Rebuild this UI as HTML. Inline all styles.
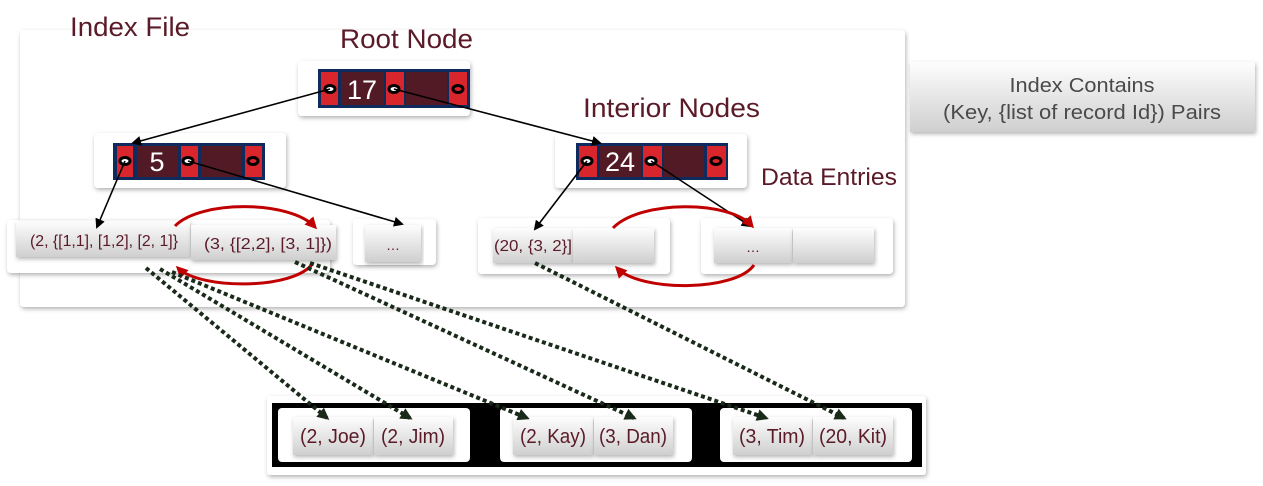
<!DOCTYPE html>
<html><head><meta charset="utf-8"><style>
html,body{margin:0;padding:0;background:#fff;}
svg{display:block;font-family:"Liberation Sans",sans-serif;}
</style></head><body>
<svg width="1263" height="486" viewBox="0 0 1263 486" xmlns="http://www.w3.org/2000/svg">
<defs>
<linearGradient id="g" x1="0" y1="0" x2="0" y2="1"><stop offset="0" stop-color="#fdfdfd"/><stop offset="1" stop-color="#cfcfcf"/></linearGradient>
<filter id="sh" x="-5%" y="-10%" width="110%" height="130%"><feDropShadow dx="1" dy="2" stdDeviation="2" flood-color="#000" flood-opacity="0.3"/></filter>
<marker id="ab" markerWidth="10" markerHeight="10" refX="8" refY="5" orient="auto" markerUnits="userSpaceOnUse"><path d="M0,0 L10,5 L0,10 z" fill="#000"/></marker>
<marker id="ar" markerWidth="12" markerHeight="12" refX="9" refY="6" orient="auto" markerUnits="userSpaceOnUse"><path d="M0,0 L12,6 L0,12 z" fill="#c00000"/></marker>
<marker id="ad" markerWidth="12" markerHeight="12" refX="9" refY="6" orient="auto" markerUnits="userSpaceOnUse"><path d="M0,0 L12,6 L0,12 z" fill="#1a2a1a"/></marker>
</defs>
<rect x="20" y="30" width="885" height="277" rx="4" fill="#fff" filter="url(#sh)"/>
<text x="70" y="36" font-size="27" fill="#5a1a28" textLength="120" lengthAdjust="spacingAndGlyphs">Index File</text>
<text x="340" y="48" font-size="27" fill="#5a1a28" textLength="133" lengthAdjust="spacingAndGlyphs">Root Node</text>
<text x="583" y="117" font-size="27" fill="#5a1a28" textLength="177" lengthAdjust="spacingAndGlyphs">Interior Nodes</text>
<text x="761" y="185" font-size="24" fill="#5a1a28" textLength="136" lengthAdjust="spacingAndGlyphs">Data Entries</text>

<rect x="298" y="61" width="172" height="55" rx="4" fill="#fff" filter="url(#sh)"/>
<rect x="94" y="133" width="192" height="55" rx="4" fill="#fff" filter="url(#sh)"/>
<rect x="555" y="134" width="192" height="54" rx="4" fill="#fff" filter="url(#sh)"/>

<g>
<rect x="318" y="69" width="152" height="39" fill="#0f2a5c"/>
<rect x="321" y="72" width="17" height="33" fill="#d9262c"/>
<rect x="341" y="72" width="43" height="33" fill="#521a24"/>
<rect x="386" y="72" width="18" height="33" fill="#d9262c"/>
<rect x="406" y="72" width="41" height="33" fill="#521a24"/>
<rect x="449" y="72" width="18" height="33" fill="#d9262c"/>
<text x="362" y="99" font-size="27" fill="#fff" text-anchor="middle">17</text>
<ellipse cx="330" cy="89" rx="5" ry="3.5" fill="#fff" stroke="#000" stroke-width="3"/>
<ellipse cx="394" cy="89" rx="5" ry="3.5" fill="#fff" stroke="#000" stroke-width="3"/>
<ellipse cx="458" cy="89" rx="5" ry="3.5" fill="#d9262c" stroke="#000" stroke-width="3"/>
</g>
<g>
<rect x="113" y="143" width="152" height="37" fill="#0f2a5c"/>
<rect x="117" y="146" width="16" height="31" fill="#d9262c"/>
<rect x="137" y="146" width="41" height="31" fill="#521a24"/>
<rect x="181" y="146" width="17" height="31" fill="#d9262c"/>
<rect x="201" y="146" width="40" height="31" fill="#521a24"/>
<rect x="245" y="146" width="17" height="31" fill="#d9262c"/>
<text x="157" y="171" font-size="27" fill="#fff" text-anchor="middle">5</text>
<ellipse cx="125" cy="161" rx="5" ry="3.5" fill="#fff" stroke="#000" stroke-width="3"/>
<ellipse cx="188" cy="161" rx="5" ry="3.5" fill="#fff" stroke="#000" stroke-width="3"/>
<ellipse cx="253" cy="161" rx="5" ry="3.5" fill="#d9262c" stroke="#000" stroke-width="3"/>
</g>
<g>
<rect x="576" y="143" width="152" height="37" fill="#0f2a5c"/>
<rect x="579" y="146" width="18" height="31" fill="#d9262c"/>
<rect x="600" y="146" width="41" height="31" fill="#521a24"/>
<rect x="643" y="146" width="19" height="31" fill="#d9262c"/>
<rect x="664" y="146" width="40" height="31" fill="#521a24"/>
<rect x="707" y="146" width="19" height="31" fill="#d9262c"/>
<text x="620" y="171" font-size="27" fill="#fff" text-anchor="middle">24</text>
<ellipse cx="587" cy="161" rx="5" ry="3.5" fill="#fff" stroke="#000" stroke-width="3"/>
<ellipse cx="651" cy="161" rx="5" ry="3.5" fill="#fff" stroke="#000" stroke-width="3"/>
<ellipse cx="716" cy="161" rx="5" ry="3.5" fill="#d9262c" stroke="#000" stroke-width="3"/>
</g>

<rect x="7" y="220" width="323" height="53" rx="4" fill="#fff" filter="url(#sh)"/>
<rect x="16" y="221" width="174" height="36" fill="url(#g)" filter="url(#sh)"/>
<text x="30" y="246" font-size="16" fill="#5a1a28" textLength="148" lengthAdjust="spacingAndGlyphs">(2, {[1,1], [1,2], [2, 1]}</text>
<rect x="191" y="225" width="145" height="35" fill="url(#g)" filter="url(#sh)"/>
<text x="204" y="249" font-size="16" fill="#5a1a28" textLength="128" lengthAdjust="spacingAndGlyphs">(3, {[2,2], [3, 1]})</text>
<rect x="353" y="219" width="83" height="46" rx="4" fill="#fff" filter="url(#sh)"/>
<rect x="365" y="225" width="56" height="37" fill="url(#g)" filter="url(#sh)"/>
<text x="393" y="250" font-size="14" fill="#5a1a28" text-anchor="middle">…</text>

<rect x="478" y="218" width="192" height="56" rx="4" fill="#fff" filter="url(#sh)"/>
<rect x="493" y="228" width="80" height="35" fill="url(#g)" filter="url(#sh)"/>
<text x="494" y="251" font-size="16" fill="#5a1a28" textLength="78" lengthAdjust="spacingAndGlyphs">(20, {3, 2}]</text>
<rect x="573" y="228" width="81" height="35" fill="url(#g)" filter="url(#sh)"/>
<rect x="701" y="218" width="192" height="56" rx="4" fill="#fff" filter="url(#sh)"/>
<rect x="714" y="228" width="78" height="35" fill="url(#g)" filter="url(#sh)"/>
<text x="753" y="252" font-size="14" fill="#5a1a28" text-anchor="middle">…</text>
<rect x="793" y="228" width="81" height="35" fill="url(#g)" filter="url(#sh)"/>

<g stroke="#000" stroke-width="1.6" fill="none" marker-end="url(#ab)">
<line x1="330" y1="89" x2="133" y2="143"/>
<line x1="394" y1="89" x2="600" y2="143"/>
<line x1="125" y1="161" x2="97" y2="227"/>
<line x1="188" y1="161" x2="402" y2="224"/>
<line x1="587" y1="161" x2="535" y2="229"/>
<line x1="651" y1="161" x2="750" y2="226"/>
</g>
<g stroke="#c00000" stroke-width="3" fill="none" marker-end="url(#ar)">
<path d="M175,226 C200,200 290,200 315,227"/>
<path d="M313,263 C295,290 200,290 178,268"/>
<path d="M613,228 C640,200 730,200 752,226"/>
<path d="M754,265 C735,292 640,292 617,268"/>
</g>

<rect x="910" y="62" width="345" height="70" fill="url(#g)" filter="url(#sh)"/>
<text x="1082" y="92" font-size="20" fill="#4a4a4a" text-anchor="middle" textLength="145" lengthAdjust="spacingAndGlyphs">Index Contains</text>
<text x="1082" y="119" font-size="20" fill="#4a4a4a" text-anchor="middle" textLength="278" lengthAdjust="spacingAndGlyphs">(Key, {list of record Id}) Pairs</text>

<rect x="267" y="396" width="659" height="79" rx="3" fill="#fff" filter="url(#sh)"/>
<rect x="272" y="403" width="650" height="64" fill="#000"/>
<rect x="278" y="408" width="192" height="54" rx="4" fill="#fff"/>
<rect x="500" y="408" width="192" height="54" rx="4" fill="#fff"/>
<rect x="720" y="408" width="192" height="54" rx="4" fill="#fff"/>
<g font-size="20" fill="#5a1a28" text-anchor="middle" lengthAdjust="spacingAndGlyphs">
<rect x="293" y="417" width="80" height="38" fill="url(#g)" filter="url(#sh)"/><text x="333" y="443" textLength="66" lengthAdjust="spacingAndGlyphs">(2, Joe)</text>
<rect x="374" y="417" width="79" height="38" fill="url(#g)" filter="url(#sh)"/><text x="413" y="443" textLength="64" lengthAdjust="spacingAndGlyphs">(2, Jim)</text>
<rect x="513" y="417" width="80" height="38" fill="url(#g)" filter="url(#sh)"/><text x="553" y="443" textLength="66" lengthAdjust="spacingAndGlyphs">(2, Kay)</text>
<rect x="594" y="417" width="79" height="38" fill="url(#g)" filter="url(#sh)"/><text x="633" y="443" textLength="68" lengthAdjust="spacingAndGlyphs">(3, Dan)</text>
<rect x="733" y="417" width="79" height="38" fill="url(#g)" filter="url(#sh)"/><text x="772" y="443" textLength="66" lengthAdjust="spacingAndGlyphs">(3, Tim)</text>
<rect x="813" y="417" width="80" height="38" fill="url(#g)" filter="url(#sh)"/><text x="853" y="443" textLength="68" lengthAdjust="spacingAndGlyphs">(20, Kit)</text>
</g>

<g stroke="#1a2a1a" stroke-width="4" stroke-dasharray="4 3" fill="none" marker-end="url(#ad)">
<line x1="146" y1="268" x2="327" y2="418"/>
<line x1="160" y1="269" x2="410" y2="418"/>
<line x1="172" y1="272" x2="527" y2="418"/>
<line x1="295" y1="262" x2="634" y2="418"/>
<line x1="310" y1="263" x2="766" y2="418"/>
<line x1="535" y1="263" x2="844" y2="418"/>
</g>
</svg>
</body></html>
